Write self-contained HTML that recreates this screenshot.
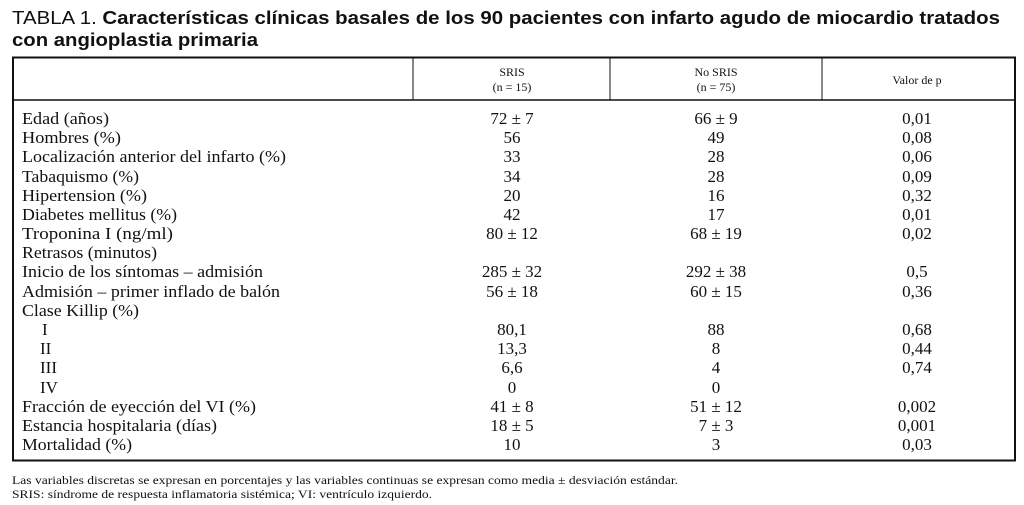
<!DOCTYPE html>
<html><head><meta charset="utf-8"><style>
html,body{margin:0;padding:0;background:#fff;width:1024px;height:505px;overflow:hidden}
svg{display:block}
.t{font-family:"Liberation Serif",serif;font-size:17px;fill:#111}
.c{text-anchor:middle}
.h{font-family:"Liberation Serif",serif;font-size:12px;fill:#111;text-anchor:middle}
.f{font-family:"Liberation Serif",serif;font-size:12px;fill:#111}
.ti{font-family:"Liberation Sans",sans-serif;font-size:18px;fill:#111}
</style></head><body>
<svg width="1024" height="505" xmlns="http://www.w3.org/2000/svg">
<text class="ti" x="12" y="24" textLength="988" lengthAdjust="spacingAndGlyphs">TABLA 1. <tspan font-weight="bold">Características clínicas basales de los 90 pacientes con infarto agudo de miocardio tratados</tspan></text>
<text class="ti" x="12" y="46" font-weight="bold" textLength="246" lengthAdjust="spacingAndGlyphs">con angioplastia primaria</text>
<rect x="13" y="57.5" width="1002" height="403" fill="none" stroke="#111" stroke-width="2"/>
<line x1="13" y1="100" x2="1015" y2="100" stroke="#111" stroke-width="1.5"/>
<line x1="413" y1="57" x2="413" y2="100" stroke="#111" stroke-width="1"/>
<line x1="610" y1="57" x2="610" y2="100" stroke="#111" stroke-width="1"/>
<line x1="822" y1="57" x2="822" y2="100" stroke="#111" stroke-width="1"/>
<text class="h" x="512" y="76">SRIS</text><text class="h" x="512" y="91">(n = 15)</text>
<text class="h" x="716" y="76">No SRIS</text><text class="h" x="716" y="91">(n = 75)</text>
<text class="h" x="917" y="84">Valor de p</text>
<g class="t">
<text x="22" y="124" textLength="87" lengthAdjust="spacingAndGlyphs">Edad (años)</text><text class="c" x="512" y="124">72 ± 7</text><text class="c" x="716" y="124">66 ± 9</text><text class="c" x="917" y="124">0,01</text>
<text x="22" y="143" textLength="99" lengthAdjust="spacingAndGlyphs">Hombres (%)</text><text class="c" x="512" y="143">56</text><text class="c" x="716" y="143">49</text><text class="c" x="917" y="143">0,08</text>
<text x="22" y="162" textLength="264" lengthAdjust="spacingAndGlyphs">Localización anterior del infarto (%)</text><text class="c" x="512" y="162">33</text><text class="c" x="716" y="162">28</text><text class="c" x="917" y="162">0,06</text>
<text x="22" y="182" textLength="117" lengthAdjust="spacingAndGlyphs">Tabaquismo (%)</text><text class="c" x="512" y="182">34</text><text class="c" x="716" y="182">28</text><text class="c" x="917" y="182">0,09</text>
<text x="22" y="201" textLength="125" lengthAdjust="spacingAndGlyphs">Hipertension (%)</text><text class="c" x="512" y="201">20</text><text class="c" x="716" y="201">16</text><text class="c" x="917" y="201">0,32</text>
<text x="22" y="220" textLength="155" lengthAdjust="spacingAndGlyphs">Diabetes mellitus (%)</text><text class="c" x="512" y="220">42</text><text class="c" x="716" y="220">17</text><text class="c" x="917" y="220">0,01</text>
<text x="22" y="239" textLength="151" lengthAdjust="spacingAndGlyphs">Troponina I (ng/ml)</text><text class="c" x="512" y="239">80 ± 12</text><text class="c" x="716" y="239">68 ± 19</text><text class="c" x="917" y="239">0,02</text>
<text x="22" y="258" textLength="135" lengthAdjust="spacingAndGlyphs">Retrasos (minutos)</text>
<text x="22" y="277" textLength="241" lengthAdjust="spacingAndGlyphs">Inicio de los síntomas – admisión</text><text class="c" x="512" y="277">285 ± 32</text><text class="c" x="716" y="277">292 ± 38</text><text class="c" x="917" y="277">0,5</text>
<text x="22" y="297" textLength="258" lengthAdjust="spacingAndGlyphs">Admisión – primer inflado de balón</text><text class="c" x="512" y="297">56 ± 18</text><text class="c" x="716" y="297">60 ± 15</text><text class="c" x="917" y="297">0,36</text>
<text x="22" y="316" textLength="117" lengthAdjust="spacingAndGlyphs">Clase Killip (%)</text>
<text x="42" y="335">I</text><text class="c" x="512" y="335">80,1</text><text class="c" x="716" y="335">88</text><text class="c" x="917" y="335">0,68</text>
<text x="40" y="354">II</text><text class="c" x="512" y="354">13,3</text><text class="c" x="716" y="354">8</text><text class="c" x="917" y="354">0,44</text>
<text x="40" y="373">III</text><text class="c" x="512" y="373">6,6</text><text class="c" x="716" y="373">4</text><text class="c" x="917" y="373">0,74</text>
<text x="40" y="393">IV</text><text class="c" x="512" y="393">0</text><text class="c" x="716" y="393">0</text>
<text x="22" y="412" textLength="234" lengthAdjust="spacingAndGlyphs">Fracción de eyección del VI (%)</text><text class="c" x="512" y="412">41 ± 8</text><text class="c" x="716" y="412">51 ± 12</text><text class="c" x="917" y="412">0,002</text>
<text x="22" y="431" textLength="195" lengthAdjust="spacingAndGlyphs">Estancia hospitalaria (días)</text><text class="c" x="512" y="431">18 ± 5</text><text class="c" x="716" y="431">7 ± 3</text><text class="c" x="917" y="431">0,001</text>
<text x="22" y="450" textLength="110" lengthAdjust="spacingAndGlyphs">Mortalidad (%)</text><text class="c" x="512" y="450">10</text><text class="c" x="716" y="450">3</text><text class="c" x="917" y="450">0,03</text>
</g>
<text class="f" x="12" y="484" textLength="666" lengthAdjust="spacingAndGlyphs">Las variables discretas se expresan en porcentajes y las variables continuas se expresan como media ± desviación estándar.</text>
<text class="f" x="12" y="498" textLength="420" lengthAdjust="spacingAndGlyphs">SRIS: síndrome de respuesta inflamatoria sistémica; VI: ventrículo izquierdo.</text>
</svg>
</body></html>
